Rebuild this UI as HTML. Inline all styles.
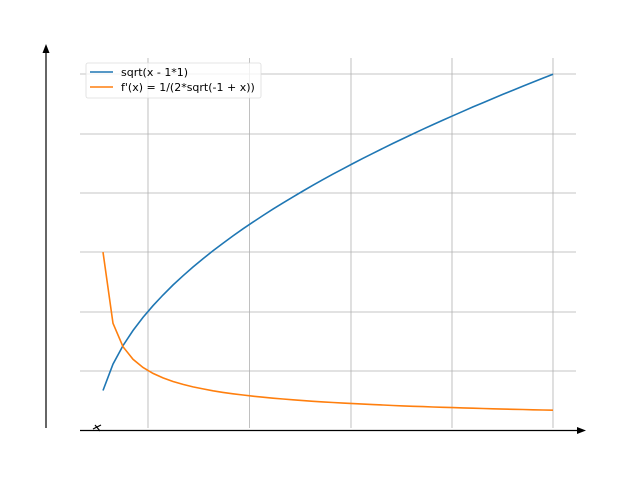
<!DOCTYPE html>
<html><head><meta charset="utf-8"><style>body{margin:0;background:#fff}svg{display:block}</style></head>
<body>
<svg id="s" width="640" height="480" xmlns="http://www.w3.org/2000/svg" font-family="DejaVu Sans, Liberation Sans, sans-serif">
<g stroke="#b0b0b0" stroke-width="0.8">
<line x1="148" y1="58" x2="148" y2="428"/><line x1="249.5" y1="58" x2="249.5" y2="428"/><line x1="351" y1="58" x2="351" y2="428"/><line x1="452" y1="58" x2="452" y2="428"/><line x1="553" y1="58" x2="553" y2="428"/>
<line x1="80" y1="74" x2="576" y2="74"/><line x1="80" y1="134" x2="576" y2="134"/><line x1="80" y1="193" x2="576" y2="193"/><line x1="80" y1="252" x2="576" y2="252"/><line x1="80" y1="312" x2="576" y2="312"/><line x1="80" y1="371" x2="576" y2="371"/>
</g>
<line x1="46" y1="428" x2="46" y2="50" stroke="#000" stroke-width="1.2"/>
<polygon points="46,44 42.5,53 49.5,53" fill="#000"/>
<line x1="80" y1="430.5" x2="580" y2="430.5" stroke="#000" stroke-width="1.2"/>
<polygon points="586,430.5 577,427 577,434" fill="#000"/>
<path d="M93,429 L101,425 M95,425 L100,431" stroke="#000" stroke-width="1.2" fill="none"/>
<polyline id="b" fill="none" stroke="#1f77b4" stroke-width="1.6"/>
<polyline id="o" fill="none" stroke="#ff7f0e" stroke-width="1.6"/>
<rect x="86" y="63" width="175" height="35" fill="#fff" fill-opacity="0.8" stroke="#ddd" stroke-width="0.8" rx="2"/>
<line x1="90" y1="72" x2="113" y2="72" stroke="#1f77b4" stroke-width="1.6"/>
<line x1="90" y1="87" x2="113" y2="87" stroke="#ff7f0e" stroke-width="1.6"/>
<text x="121" y="76" font-size="11">sqrt(x - 1*1)</text>
<text x="121" y="91" font-size="11">f'(x) = 1/(2*sqrt(-1 + x))</text>
</svg>
<script>
var b=[],o=[],x0=1+1/9,n=45;
for(var i=0;i<=n;i++){var x=x0+(10-x0)*i/n;var px=103+(x-x0)*50.625;
var s=Math.sqrt(x-1);b.push(px.toFixed(1)+","+(430-s*118.6).toFixed(1));o.push(px.toFixed(1)+","+(430-0.5/s*118.6).toFixed(1));}
document.getElementById("b").setAttribute("points",b.join(" "));
document.getElementById("o").setAttribute("points",o.join(" "));
</script>
</body></html>
